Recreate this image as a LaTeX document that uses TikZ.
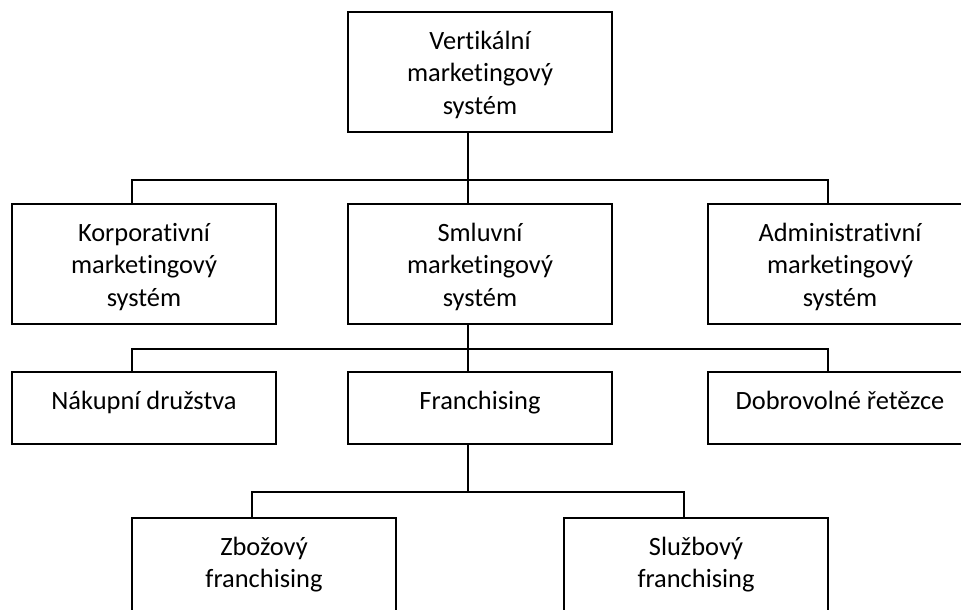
\documentclass[tikz,border=0pt]{standalone}
\usepackage{fontspec}
\setmainfont{Carlito}[Ligatures={NoCommon}]
\begin{document}
\begin{tikzpicture}[x=1pt, y=-1pt,
  box/.style={draw, line width=1.9pt, minimum width=264pt, minimum height=#1,
              inner sep=0pt, outer sep=0pt, anchor=north west},
  txt/.style={align=center, anchor=base, inner sep=0pt,
              font=\fontsize{26.4}{32.5}\selectfont},
  link/.style={line width=1.9pt}]
\useasboundingbox (0,0) rectangle (961,610);
\clip (0,0) rectangle (961,610);

% level 1
\node[box=120pt] (vms) at (348,12) {};
% level 2
\node[box=120pt] (korp) at (12,204) {};
\node[box=120pt] (smlu) at (348,204) {};
\node[box=120pt] (admi) at (708,204) {};
% level 3
\node[box=72pt] (naku) at (12,372) {};
\node[box=72pt] (fran) at (348,372) {};
\node[box=72pt] (dobr) at (708,372) {};
% level 4
\node[box=120pt] (zboz) at (132,518) {};
\node[box=120pt] (sluz) at (564,518) {};

% labels: the base anchor sits on the last line; first baseline is 37pt below the box top
\node[txt] (vms-t)  at ([yshift=-102pt]vms.north)  {Vertikální\\marketingový\\systém};
\node[txt] (korp-t) at ([yshift=-102pt]korp.north) {Korporativní\\marketingový\\systém};
\node[txt] (smlu-t) at ([yshift=-102pt]smlu.north) {Smluvní\\marketingový\\systém};
\node[txt] (admi-t) at ([yshift=-102pt]admi.north) {Administrativní\\marketingový\\systém};
\node[txt] (naku-t) at ([yshift=-37pt]naku.north) {Nákupní družstva};
\node[txt] (fran-t) at ([yshift=-37pt]fran.north) {Franchising};
\node[txt] (dobr-t) at ([yshift=-37pt]dobr.north) {Dobrovolné řetězce};
\node[txt] (zboz-t) at ([yshift=-69.5pt]zboz.north) {Zbožový\\franchising};
\node[txt] (sluz-t) at ([yshift=-69.5pt]sluz.north) {Službový\\franchising};

% bus junctions
\coordinate (b1) at (468,180);
\coordinate (b2) at (468,349);
\coordinate (b3) at (468,492);

% connectors
\draw[link] ([xshift=-12pt]vms.south) -- ([xshift=-12pt]smlu.north);
\draw[link] ([xshift=-12pt]korp.north) |- (b1) -| ([xshift=-12pt]admi.north);
\draw[link] ([xshift=-12pt]smlu.south) -- ([xshift=-12pt]fran.north);
\draw[link] ([xshift=-12pt]naku.north) |- (b2) -| ([xshift=-12pt]dobr.north);
\draw[link] ([xshift=-12pt]fran.south) -- (b3);
\draw[link] ([xshift=-12pt]zboz.north) |- (b3) -| ([xshift=-12pt]sluz.north);
\end{tikzpicture}
\end{document}
